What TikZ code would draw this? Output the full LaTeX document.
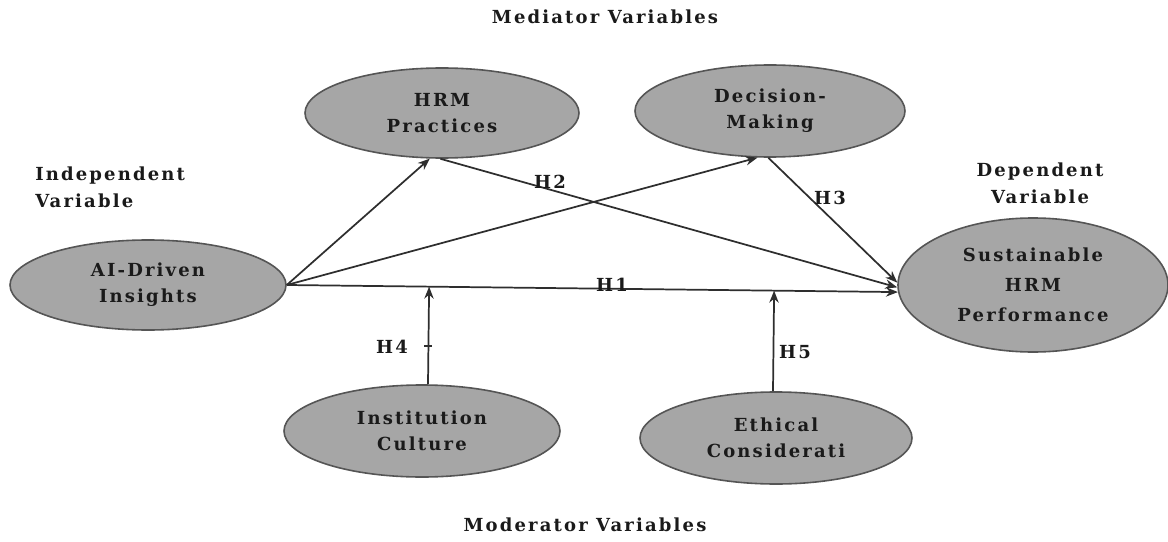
\documentclass[tikz,border=0pt]{standalone}
\usepackage{fontspec}
\setmainfont{DejaVu Serif}[LetterSpace=12]
\usetikzlibrary{shapes.geometric,arrows.meta,calc}
\definecolor{ellfill}{HTML}{A6A6A6}
\definecolor{elldraw}{HTML}{555555}
\definecolor{ink}{HTML}{1A1A1A}
\definecolor{wire}{HTML}{2E2E2E}
\begin{document}
\begin{tikzpicture}[x=0.75pt,y=-0.75pt,
  var/.style={ellipse,draw=elldraw,line width=1.2pt,fill=ellfill,inner sep=0pt,
    text=ink,font=\bfseries\fontsize{13.5}{19.5}\selectfont,align=center},
  lab/.style={text=ink,font=\bfseries\fontsize{13.5}{20.5}\selectfont,inner sep=0pt,align=center},
  arr/.style={draw=wire,line width=1.3pt,-{Stealth[length=9pt,width=7pt]}}]
\useasboundingbox (0,0) rectangle (1168,542);
% variables
\node[var,minimum width=207pt,minimum height=67.5pt] (ai) at (148,285) {AI-Driven\\Insights};
\node[var,minimum width=205.5pt,minimum height=67.5pt] (hrm) at (442,113) {HRM\\Practices};
\node[var,minimum width=202.5pt,minimum height=69pt] (dm) at (770,111) {Decision-\\Making};
\node[var,minimum width=202.5pt,minimum height=100.5pt,font=\bfseries\fontsize{13.5}{22.5}\selectfont] (sus) at (1033,285) {Sustainable\\HRM\\Performance};
\node[var,minimum width=207pt,minimum height=69pt] (ic) at (422,431) {Institution\\Culture};
\node[var,minimum width=204pt,minimum height=69pt] (ec) at (776,438) {Ethical\\Considerati};
% group labels
\node[lab] (medl) at (605,17) {Mediator Variables};
\node[lab] (modl) at (585,525) {Moderator Variables};
\node[lab,anchor=west,align=left] (indl) at (35,187) {Independent\\Variable};
\node[lab] (depl) at (1040,183) {Dependent\\Variable};
% paths
\draw[arr] (ai.east) -- (hrm.255);
\draw[arr] (ai.east) -- (dm.255);
\draw[arr] (ai.east) -- (sus.183);
\draw[arr] (hrm.268) -- (sus.181);
\draw[arr] (dm.268) -- (sus.179);
\coordinate (icn) at ([xshift=4.5pt]ic.north);
\coordinate (ecn) at ([xshift=-2.25pt]ec.north);
\coordinate (m1) at ($(ai.east)!(icn)!(sus.183)$);
\coordinate (m2) at ($(ai.east)!(ecn)!(sus.183)$);
\draw[arr] (icn) -- (m1);
\draw[arr] (ecn) -- (m2);
\draw[draw=wire,line width=1.3pt] ($(icn)!0.39!(m1)$) ++(-4,0) -- ++(8,0);
% hypothesis labels
\node[lab] (h1) at (612,285) {H1};
\node[lab] (h2) at (550,182) {H2};
\node[lab] (h3) at (830,198) {H3};
\node[lab] (h4) at (392,347) {H4};
\node[lab] (h5) at (795,352) {H5};
\end{tikzpicture}
\end{document}
